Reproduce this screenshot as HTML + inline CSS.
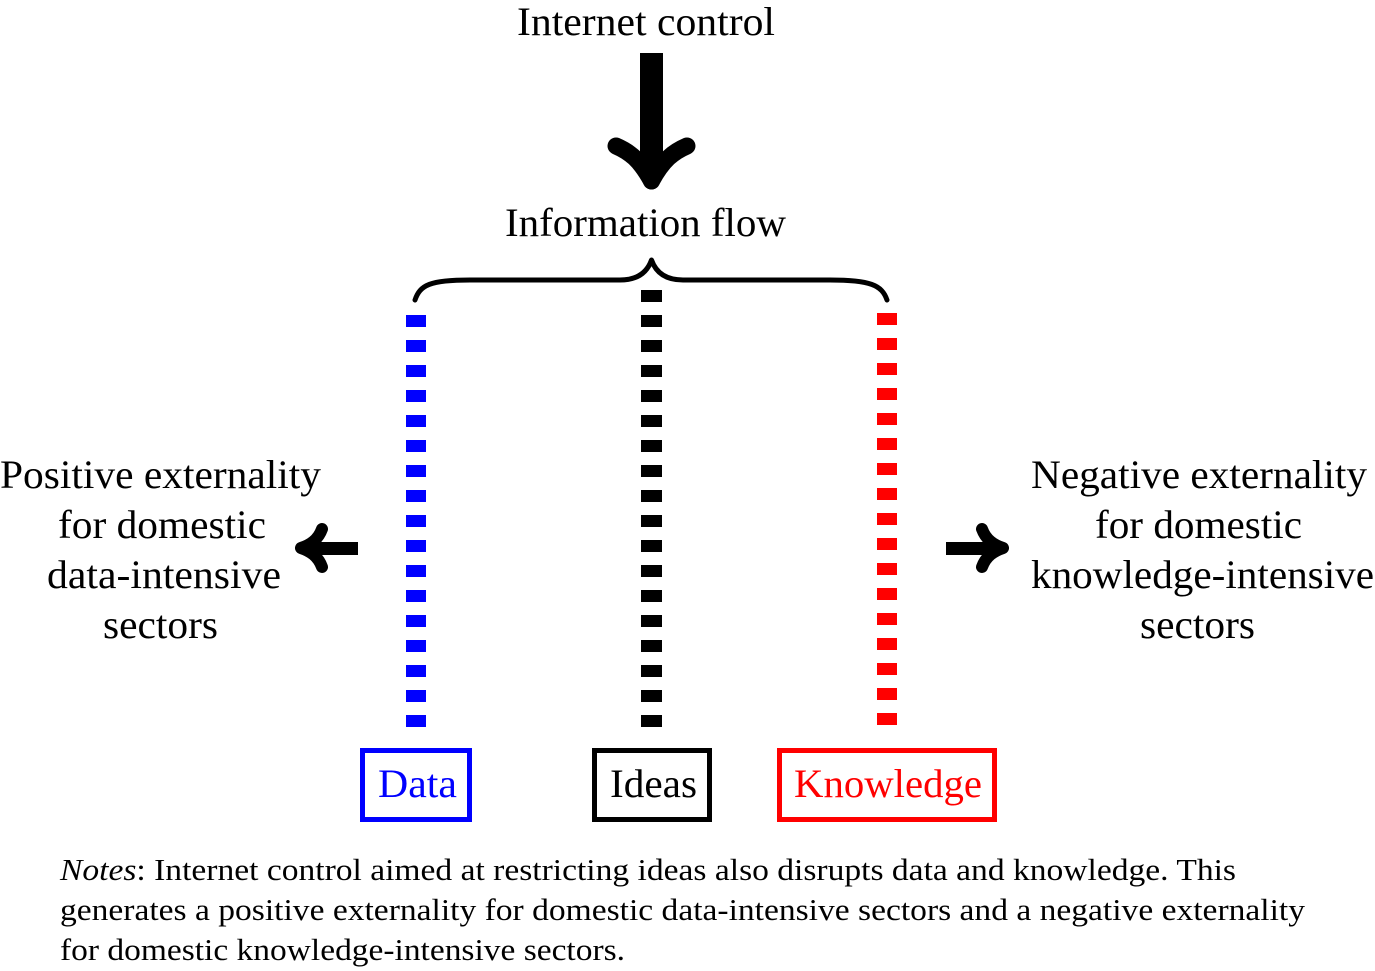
<!DOCTYPE html>
<html><head><meta charset="utf-8"><style>
html,body{margin:0;padding:0;background:#fff;}
svg{display:block;}
text{font-family:"Liberation Serif","Times New Roman",serif;}
</style></head><body>
<svg width="1375" height="971" viewBox="0 0 1375 971" xmlns="http://www.w3.org/2000/svg">
<g font-size="40" fill="#000" font-family="Liberation Serif, Times New Roman, serif">
<text x="517" y="35" textLength="258" lengthAdjust="spacingAndGlyphs">Internet control</text>
<text x="505" y="236" textLength="281" lengthAdjust="spacingAndGlyphs">Information flow</text>
<text x="0" y="488" textLength="321" lengthAdjust="spacingAndGlyphs">Positive externality</text>
<text x="58" y="538" textLength="208" lengthAdjust="spacingAndGlyphs">for domestic</text>
<text x="47" y="588" textLength="234" lengthAdjust="spacingAndGlyphs">data-intensive</text>
<text x="103" y="638" textLength="115" lengthAdjust="spacingAndGlyphs">sectors</text>
<text x="1031" y="488" textLength="336" lengthAdjust="spacingAndGlyphs">Negative externality</text>
<text x="1095" y="538" textLength="207" lengthAdjust="spacingAndGlyphs">for domestic</text>
<text x="1031" y="588" textLength="343" lengthAdjust="spacingAndGlyphs">knowledge-intensive</text>
<text x="1140" y="638" textLength="115" lengthAdjust="spacingAndGlyphs">sectors</text>
<text x="378" y="797" fill="#0000ff" textLength="79" lengthAdjust="spacingAndGlyphs">Data</text>
<text x="610" y="797" textLength="87" lengthAdjust="spacingAndGlyphs">Ideas</text>
<text x="794" y="797" fill="#ff0000" textLength="188" lengthAdjust="spacingAndGlyphs">Knowledge</text>
</g>
<g font-size="31" fill="#000" font-family="Liberation Serif, Times New Roman, serif">
<text x="60" y="880" textLength="1176" lengthAdjust="spacingAndGlyphs"><tspan font-style="italic">Notes</tspan>: Internet control aimed at restricting ideas also disrupts data and knowledge. This</text>
<text x="60" y="920" textLength="1245" lengthAdjust="spacingAndGlyphs">generates a positive externality for domestic data-intensive sectors and a negative externality</text>
<text x="60" y="960" textLength="565" lengthAdjust="spacingAndGlyphs">for domestic knowledge-intensive sectors.</text>
</g>
<rect x="640" y="53" width="23" height="120" fill="#000"/>
<path d="M651.5 181 C 640 160, 630 152, 616 146" stroke="#000" stroke-width="17" fill="none" stroke-linecap="round"/>
<path d="M651.5 181 C 663 160, 673 152, 687 146" stroke="#000" stroke-width="17" fill="none" stroke-linecap="round"/>
<path d="M415 300 C 420 285, 430 280, 470 280 L 620 280 C 640 280, 648 270, 651.5 260 C 655 270, 663 280, 683 280 L 830 280 C 870 280, 882 285, 887 300" stroke="#000" stroke-width="5" fill="none" stroke-linecap="round" stroke-linejoin="round"/>
<line x1="416" y1="315" x2="416" y2="727" stroke="#0000ff" stroke-width="20" stroke-dasharray="12 13"/>
<line x1="651.5" y1="290" x2="651.5" y2="727" stroke="#000" stroke-width="21" stroke-dasharray="12 13"/>
<line x1="887" y1="313" x2="887" y2="725" stroke="#ff0000" stroke-width="20" stroke-dasharray="12 13"/>
<rect x="312" y="542" width="46" height="13" fill="#000"/>
<path d="M301 548 C 310 545, 318 540, 322 529 M301 548 C 310 551, 318 556, 322 567" stroke="#000" stroke-width="12" fill="none" stroke-linecap="round"/>
<rect x="946" y="542" width="46" height="13" fill="#000"/>
<path d="M1003 548 C 994 545, 986 540, 982 529 M1003 548 C 994 551, 986 556, 982 567" stroke="#000" stroke-width="12" fill="none" stroke-linecap="round"/>
<rect x="362.5" y="750.5" width="107" height="69" fill="none" stroke="#0000ff" stroke-width="5"/>
<rect x="594.5" y="750.5" width="115" height="69" fill="none" stroke="#000" stroke-width="5"/>
<rect x="779.5" y="750.5" width="215" height="69" fill="none" stroke="#ff0000" stroke-width="5"/>
</svg>
</body></html>
